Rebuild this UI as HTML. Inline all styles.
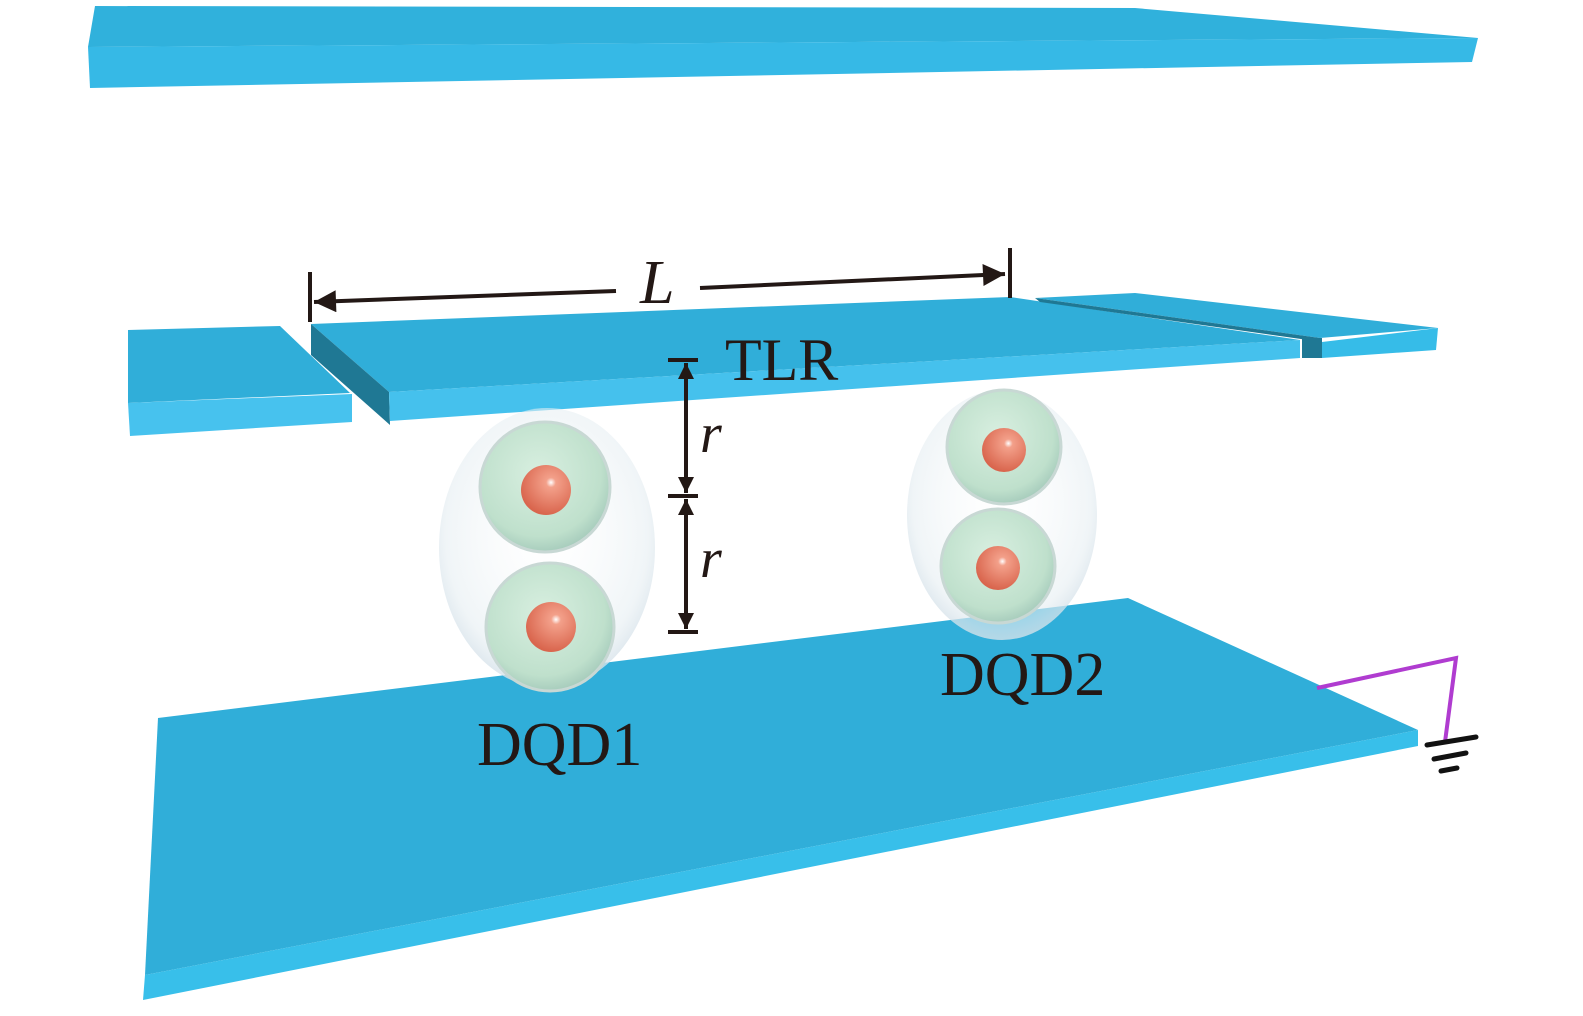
<!DOCTYPE html>
<html><head><style>body{margin:0;background:#fff}svg{display:block}</style></head><body>
<svg width="1583" height="1016" viewBox="0 0 1583 1016" xmlns="http://www.w3.org/2000/svg">
<defs>
<radialGradient id="g" cx="45%" cy="40%" r="60%"><stop offset="0" stop-color="#d8efe0"/><stop offset="0.8" stop-color="#bfe0cc"/><stop offset="1" stop-color="#a8cdbd"/></radialGradient>
<radialGradient id="c" cx="60%" cy="35%" r="65%"><stop offset="0" stop-color="#fff"/><stop offset="0.15" stop-color="#f3a08a"/><stop offset="1" stop-color="#d9654d"/></radialGradient>
<radialGradient id="o" cx="50%" cy="45%" r="55%"><stop offset="0" stop-color="#fff" stop-opacity="0.2"/><stop offset="0.85" stop-color="#e6eef2" stop-opacity="0.6"/><stop offset="1" stop-color="#d6e2ea" stop-opacity="0.8"/></radialGradient>
<marker id="a" viewBox="0 0 10 10" refX="10" refY="5" markerWidth="11" markerHeight="5.5" orient="auto-start-reverse" markerUnits="strokeWidth"><path d="M0,0L10,5L0,10z" fill="#231815"/></marker>
<marker id="b" viewBox="0 0 10 10" refX="10" refY="5" markerWidth="6" markerHeight="4" orient="auto-start-reverse" markerUnits="strokeWidth"><path d="M0,0L10,5L0,10z" fill="#231815"/></marker>
</defs>
<!-- top plate -->
<polygon points="95,6 1135,8 1478,38 88,47" fill="#30b1dc"/>
<polygon points="88,47 1478,38 1472,62 90,88" fill="#36b9e6"/>
<!-- bottom plate -->
<polygon points="158,718 1128,598 1418,730 145,975" fill="#30aed9"/>
<polygon points="145,975 1418,730 1418,746 143,1000" fill="#38bfea"/>
<!-- TLR left -->
<polygon points="128,330 280,326 350,393 128,403" fill="#30aed9"/>
<polygon points="128,403 352,394 352,422 130,436" fill="#47c2ee"/>
<!-- TLR center -->
<polygon points="311,324 1010,297 1300,340 389,392" fill="#30aed9"/>
<polygon points="311,324 389,392 390,425 311,355" fill="#1f7894"/>
<polygon points="389,392 1300,340 1300,358 390,421" fill="#45c1ed"/>
<!-- TLR right -->
<polygon points="1035,298 1135,293 1438,328 1320,338" fill="#30aed9"/>
<polygon points="1035,298 1320,338 1322,342 1040,302" fill="#1f7894"/>
<polygon points="1302,338 1322,338 1322,358 1302,358" fill="#1f7894"/>
<polygon points="1322,342 1438,328 1436,350 1322,358" fill="#36bce8"/>
<!-- ground -->
<polyline points="1317,688 1456,658 1445,742" fill="none" stroke="#b03cd0" stroke-width="4"/>
<g stroke="#111" stroke-width="5" stroke-linecap="round">
<line x1="1427" y1="745" x2="1476" y2="737"/><line x1="1434" y1="759" x2="1466" y2="753"/><line x1="1441" y1="771" x2="1457" y2="768"/></g>
<!-- DQD1 -->
<ellipse cx="547" cy="548" rx="108" ry="140" fill="url(#o)"/>
<circle cx="545" cy="487" r="65" fill="url(#g)" stroke="#c8d8d4" stroke-width="3"/>
<circle cx="550" cy="627" r="64" fill="url(#g)" stroke="#c8d8d4" stroke-width="3"/>
<circle cx="546" cy="490" r="25" fill="url(#c)"/>
<circle cx="551" cy="627" r="25" fill="url(#c)"/>
<!-- DQD2 -->
<ellipse cx="1002" cy="515" rx="95" ry="125" fill="url(#o)"/>
<circle cx="1004" cy="447" r="57" fill="url(#g)" stroke="#c8d8d4" stroke-width="3"/>
<circle cx="998" cy="566" r="57" fill="url(#g)" stroke="#c8d8d4" stroke-width="3"/>
<circle cx="1004" cy="450" r="22" fill="url(#c)"/>
<circle cx="998" cy="568" r="22" fill="url(#c)"/>
<!-- L dimension -->
<g stroke="#231815" stroke-width="4" fill="none">
<line x1="310" y1="272" x2="310" y2="322"/>
<line x1="1010" y1="248" x2="1010" y2="298"/>
<line x1="616" y1="291" x2="314" y2="302" marker-end="url(#a)"/>
<line x1="700" y1="288" x2="1005" y2="274" marker-end="url(#a)"/>
<line x1="668" y1="360" x2="698" y2="360"/>
<line x1="668" y1="496" x2="698" y2="496"/>
<line x1="668" y1="632" x2="698" y2="632"/>
<line x1="686" y1="363" x2="686" y2="493" marker-start="url(#b)" marker-end="url(#b)"/>
<line x1="686" y1="499" x2="686" y2="629" marker-start="url(#b)" marker-end="url(#b)"/>
</g>
<g font-family="Liberation Serif, serif" fill="#231815">
<text x="640" y="303" font-size="62" font-style="italic">L</text>
<text x="725" y="380" font-size="60">TLR</text>
<text x="700" y="452" font-size="56" font-style="italic">r</text>
<text x="700" y="577" font-size="56" font-style="italic">r</text>
<text x="477" y="765" font-size="62">DQD1</text>
<text x="940" y="695" font-size="62">DQD2</text>
</g>
</svg>
</body></html>
